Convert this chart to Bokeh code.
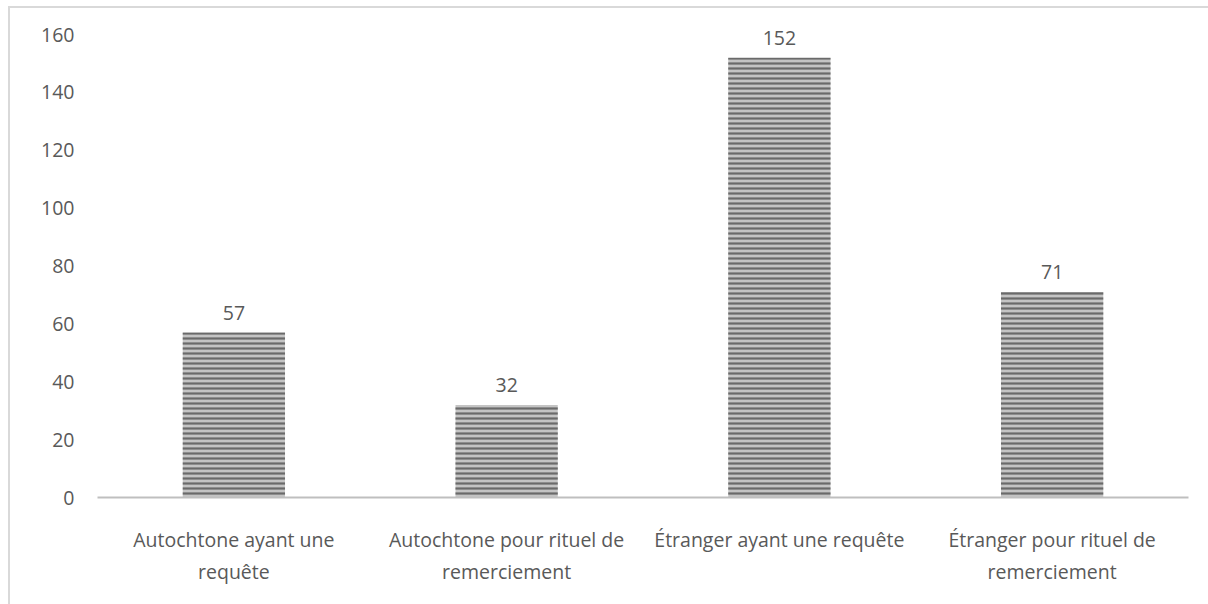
from bokeh.plotting import figure
from bokeh.models import FactorRange, Range1d, FixedTicker, ColumnDataSource
from bokeh.core.properties import value
from bokeh.embed import file_html
from bokeh.resources import INLINE

categories = [
    "Autochtone ayant une\nrequête",
    "Autochtone pour rituel de\nremerciement",
    "Étranger ayant une requête",
    "Étranger pour rituel de\nremerciement",
]
values = [57, 32, 152, 71]
value_labels = [str(v) for v in values]
y_ticks = [0, 20, 40, 60, 80, 100, 120, 140, 160]

FONT = "Open Sans"
FS = "19.5px"
TEXT_COLOR = "#595959"
BORDER = "#d9d9d9"

src = ColumnDataSource(dict(cat=categories, val=values, lab=value_labels))

p = figure(
    width=1208, height=604,
    x_range=FactorRange(*categories, range_padding=0),
    y_range=Range1d(0, 169),
    output_backend="svg", toolbar_location=None,
    min_border_left=97, min_border_right=20,
    min_border_top=8, min_border_bottom=107,
)
p.border_fill_color = None
p.background_fill_color = None
p.styles = {
    "background-image": f"linear-gradient({BORDER},{BORDER}), linear-gradient({BORDER},{BORDER})",
    "background-size": "1200px 2px, 2px 600px",
    "background-position": "8px 6px, 8px 6px",
    "background-repeat": "no-repeat",
}
p.outline_line_color = None
p.xgrid.grid_line_color = None
p.ygrid.grid_line_color = None

p.vbar(x="cat", top="val", width=0.375, source=src,
       fill_color="#c4c4c4", line_color=None,
       hatch_pattern="horizontal_line", hatch_color="#6a6a6a",
       hatch_scale=5, hatch_weight=2.2)

p.text(x="cat", y="val", text="lab", source=src,
       text_align="center", text_baseline="bottom", y_offset=-13,
       text_font=value(FONT), text_font_size=FS, text_color=TEXT_COLOR)

p.yaxis.ticker = FixedTicker(ticks=y_ticks)
p.yaxis.axis_line_color = None
p.yaxis.major_tick_line_color = None
p.yaxis.minor_tick_line_color = None
p.yaxis.major_tick_out = 0
p.yaxis.minor_tick_out = 0
p.yaxis.major_label_standoff = 23
p.yaxis.major_label_text_font = FONT
p.yaxis.major_label_text_font_size = FS
p.yaxis.major_label_text_color = TEXT_COLOR

xa = p.xaxis[0]
xa.axis_line_color = "#bfbfbf"
xa.axis_line_width = 2
xa.major_tick_line_color = None
xa.minor_tick_line_color = None
xa.major_tick_out = 0
xa.minor_tick_out = 0
xa.major_label_standoff = 28
xa.major_label_text_font = FONT
xa.major_label_text_font_size = FS
xa.major_label_text_color = TEXT_COLOR

open("out.html", "w").write(file_html(p, INLINE))
